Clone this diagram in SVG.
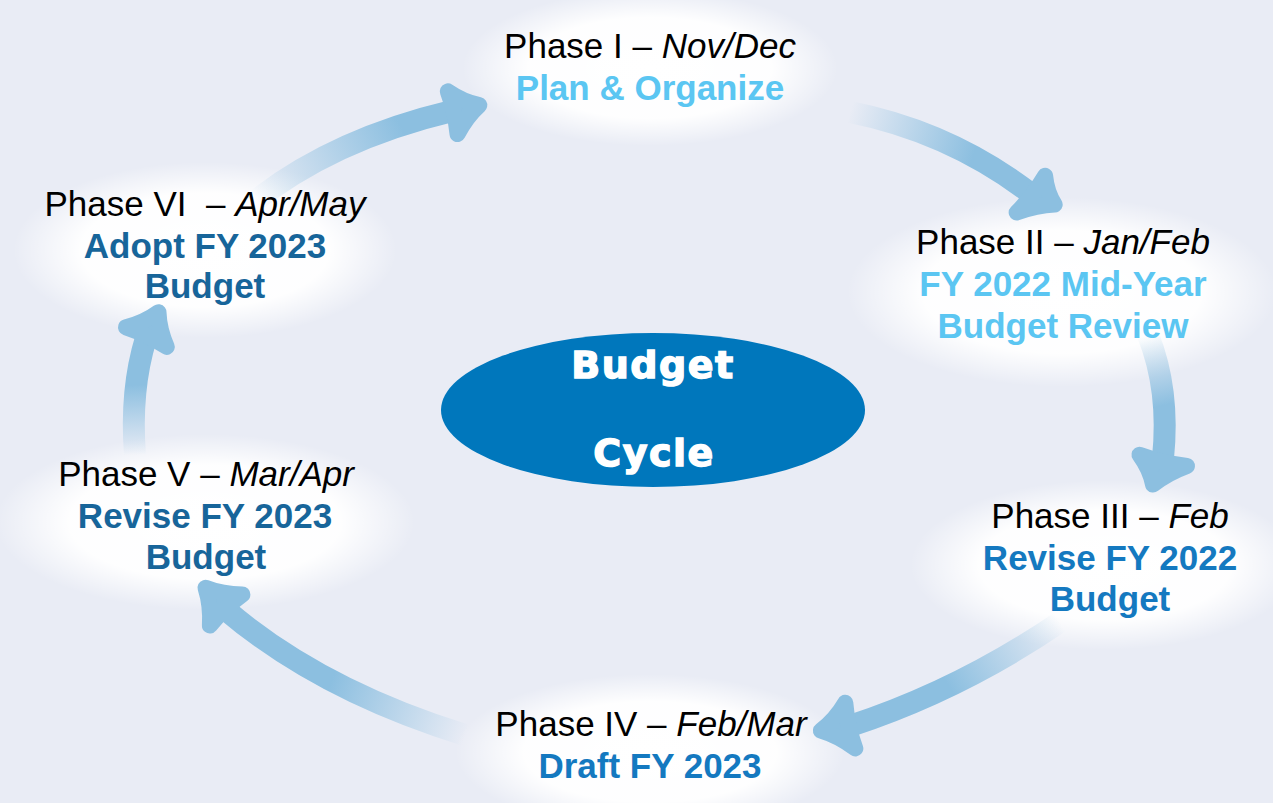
<svg xmlns="http://www.w3.org/2000/svg" width="1273" height="803" viewBox="0 0 1273 803">
  <style>
    .ph { font-family: "Liberation Sans", Arial, sans-serif; font-size: 35px; fill: #000; text-anchor: middle; }
    .ph tspan.m { font-style: italic; }
    .tt { font-family: "Liberation Sans", Arial, sans-serif; font-size: 35px; font-weight: bold; text-anchor: middle; }
    .c1 { fill: #5BC6F2; }
    .c2 { fill: #1479C0; }
    .c3 { fill: #17659A; }
    .band { fill: none; stroke-width: 22; stroke-linecap: butt; }
    .head { fill: #8CBFE0; stroke: #8CBFE0; stroke-width: 16; stroke-linejoin: round; }
    .core { font-family: "DejaVu Sans", Verdana, sans-serif; font-weight: bold; font-size: 38px; fill: #fff; stroke: #fff; stroke-width: 1.4; text-anchor: middle; letter-spacing: 1.5px; }
  </style>
  <defs>
    <radialGradient id="glow" cx="0.5" cy="0.5" r="0.5">
      <stop offset="0" stop-color="#fff" stop-opacity="1"/>
      <stop offset="0.65" stop-color="#fff" stop-opacity="0.95"/>
      <stop offset="1" stop-color="#fff" stop-opacity="0"/>
    </radialGradient>
    <linearGradient id="f1" gradientUnits="userSpaceOnUse" x1="255" y1="200" x2="400" y2="125">
      <stop offset="0" stop-color="#8CBFE0" stop-opacity="0"/>
      <stop offset="1" stop-color="#8CBFE0" stop-opacity="1"/>
    </linearGradient>
    <linearGradient id="f2" gradientUnits="userSpaceOnUse" x1="850" y1="112" x2="975" y2="150">
      <stop offset="0" stop-color="#8CBFE0" stop-opacity="0"/>
      <stop offset="1" stop-color="#8CBFE0" stop-opacity="1"/>
    </linearGradient>
    <linearGradient id="f3" gradientUnits="userSpaceOnUse" x1="1148" y1="335" x2="1165" y2="405">
      <stop offset="0" stop-color="#8CBFE0" stop-opacity="0"/>
      <stop offset="1" stop-color="#8CBFE0" stop-opacity="1"/>
    </linearGradient>
    <linearGradient id="f4" gradientUnits="userSpaceOnUse" x1="1060" y1="622" x2="950" y2="688">
      <stop offset="0" stop-color="#8CBFE0" stop-opacity="0"/>
      <stop offset="1" stop-color="#8CBFE0" stop-opacity="1"/>
    </linearGradient>
    <linearGradient id="f5" gradientUnits="userSpaceOnUse" x1="465" y1="735" x2="330" y2="685">
      <stop offset="0" stop-color="#8CBFE0" stop-opacity="0"/>
      <stop offset="1" stop-color="#8CBFE0" stop-opacity="1"/>
    </linearGradient>
    <linearGradient id="f6" gradientUnits="userSpaceOnUse" x1="135" y1="455" x2="133" y2="385">
      <stop offset="0" stop-color="#8CBFE0" stop-opacity="0"/>
      <stop offset="1" stop-color="#8CBFE0" stop-opacity="1"/>
    </linearGradient>
  </defs>

  <rect width="1273" height="803" fill="#E9ECF5"/>

  <!-- soft white halos behind each phase label -->
  <g id="halos">
    <ellipse cx="650" cy="68" rx="188" ry="78" fill="url(#glow)"/>
    <ellipse cx="1062" cy="292" rx="215" ry="95" fill="url(#glow)"/>
    <ellipse cx="1105" cy="565" rx="195" ry="85" fill="url(#glow)"/>
    <ellipse cx="650" cy="752" rx="195" ry="78" fill="url(#glow)"/>
    <ellipse cx="205" cy="522" rx="210" ry="88" fill="url(#glow)"/>
    <ellipse cx="205" cy="250" rx="192" ry="88" fill="url(#glow)"/>
  </g>

  <!-- curved arrows between phases: fading band + rounded, slightly concave head -->
  <g id="connectors">
    <path class="band" stroke="url(#f1)" d="M 250 205 Q 330 140 452 111"/>
    <path class="head" d="M 447.8 91.4 Q 463 101.8 479.3 105.2 Q 466.5 116.7 457.5 134.1 Q 455.4 112 447.8 91.4 Z"/>

    <path class="band" stroke="url(#f2)" d="M 850 112 Q 950 132 1030 193"/>
    <path class="head" d="M 1045.1 175.8 Q 1046.8 192.5 1054.7 204.6 Q 1036.9 205.3 1016.7 212.6 Q 1033.5 195.3 1045.1 175.8 Z"/>

    <path class="band" stroke="url(#f3)" d="M 1148 335 Q 1170 390 1163 458"/>
    <path class="head" d="M 1139.5 454.7 Q 1162.1 462.9 1187 465.9 Q 1166.8 473.4 1153 484.6 Q 1150.2 469.5 1139.5 454.7 Z"/>

    <path class="band" stroke="url(#f4)" d="M 1060 622 Q 960 690 850 726"/>
    <path class="head" d="M 845.3 702.8 Q 835.2 719.9 820.9 730.6 Q 838.7 735.9 855.3 748.5 Q 847.2 726.2 845.3 702.8 Z"/>

    <path class="band" stroke="url(#f5)" d="M 465 735 Q 320 690 226 610"/>
    <path class="head" d="M 205.5 587.8 Q 222.5 594.5 242.4 594.5 Q 224 607.8 209.9 625.6 Q 211.1 605.4 205.5 587.8 Z"/>

    <path class="band" stroke="url(#f6)" d="M 135 455 Q 130 390 146 338"/>
    <path class="head" d="M 126 327.3 Q 144.8 322.3 158.5 312.2 Q 159.1 329.2 166.8 346.9 Q 147.7 334.5 126 327.3 Z"/>
  </g>

  <g id="core">
    <ellipse cx="653" cy="410" rx="212" ry="77" fill="#0077BC"/>
    <text class="core" x="653" y="378">Budget</text>
    <text class="core" x="654" y="466">Cycle</text>
  </g>

  <g id="phase1">
    <text class="ph" x="650" y="58">Phase I – <tspan class="m">Nov/Dec</tspan></text>
    <text class="tt c1" x="650" y="100">Plan &amp; Organize</text>
  </g>

  <g id="phase2">
    <text class="ph" x="1063" y="254">Phase II – <tspan class="m">Jan/Feb</tspan></text>
    <text class="tt c1" x="1063" y="296">FY 2022 Mid-Year</text>
    <text class="tt c1" x="1063" y="338">Budget Review</text>
  </g>

  <g id="phase3">
    <text class="ph" x="1110" y="528">Phase III – <tspan class="m">Feb</tspan></text>
    <text class="tt c2" x="1110" y="570">Revise FY 2022</text>
    <text class="tt c2" x="1110" y="611">Budget</text>
  </g>

  <g id="phase4">
    <text class="ph" x="651" y="736">Phase IV – <tspan class="m">Feb/Mar</tspan></text>
    <text class="tt c2" x="650" y="778">Draft FY 2023</text>
  </g>

  <g id="phase5">
    <text class="ph" x="206" y="486">Phase V – <tspan class="m">Mar/Apr</tspan></text>
    <text class="tt c3" x="205" y="528">Revise FY 2023</text>
    <text class="tt c3" x="206" y="569">Budget</text>
  </g>

  <g id="phase6">
    <text class="ph" x="205" y="216" xml:space="preserve">Phase VI  – <tspan class="m">Apr/May</tspan></text>
    <text class="tt c3" x="205" y="258">Adopt FY 2023</text>
    <text class="tt c3" x="205" y="298">Budget</text>
  </g>
</svg>
